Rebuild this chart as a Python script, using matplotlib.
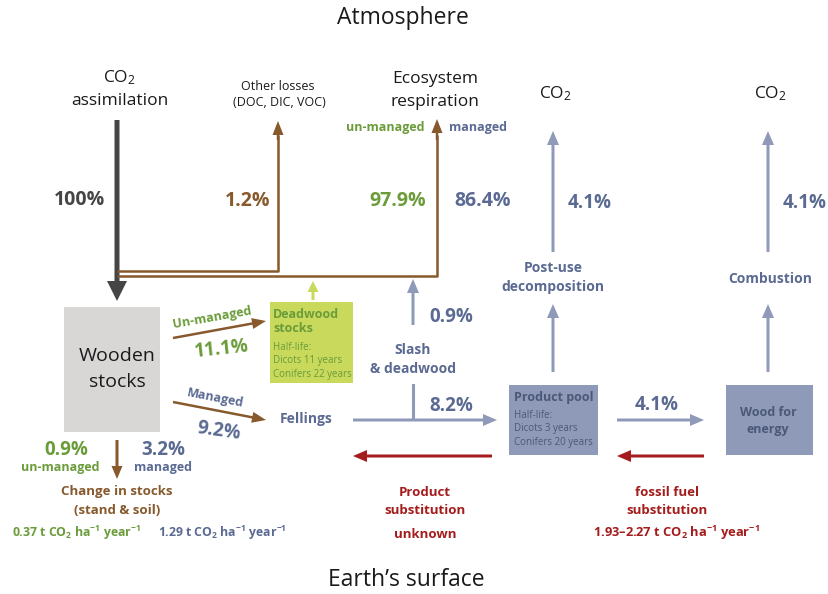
import matplotlib.pyplot as plt
from matplotlib.patches import Rectangle

plt.rcParams['font.family'] = ['Open Sans', 'DejaVu Sans']
plt.rcParams['mathtext.fontset'] = 'custom'
plt.rcParams['mathtext.default'] = 'regular'

# carbon flows, % of CO2 assimilation
assimilation = 100
other_losses = 1.2
respiration = [97.9, 86.4]        # un-managed, managed
to_deadwood = 11.1                # un-managed
to_fellings = 9.2                 # managed
slash = 0.9
to_products = 8.2
stock_change = [0.9, 3.2]         # un-managed, managed
to_energy = 4.1
decomposition = 4.1
combustion = 4.1
# rates in t CO2 / ha / year
stock_rate = [0.37, 1.29]
fossil_sub = [1.93, 2.27]
# half-lives, years (dicots, conifers)
deadwood_half = [11, 22]
product_half = [3, 20]

BLACK = '#1a1a1a'
DARK = '#454545'
BROWN = '#87592c'
GREEN = '#6a9c3a'
SLATE = '#5b6a92'
SLATE_A = '#8e9ab8'
RED = '#a51c1c'
LIME = '#c9d95b'
BOXTXT = '#4c5878'

def pct(v):
    return f'{v:g}%'

def rate(v):
    return r'%s t CO$_2$ ha$^{-1}$ year$^{-1}$' % v

fig = plt.figure(figsize=(8.29, 5.94), dpi=100, facecolor='w')
ax = fig.add_axes([0, 0, 1, 1])
ax.set_xlim(0, 829)
ax.set_ylim(594, 0)
ax.axis('off')

def arrow(x0, y0, x1, y1, c, w=3, hw=12, hl=14):
    ax.arrow(x0, y0, x1 - x0, y1 - y0, width=w, head_width=hw, head_length=hl,
             length_includes_head=True, color=c, lw=0)

def txt(x, y, s, c=BLACK, size=10, bold=False, ha='center', **kw):
    ax.text(x, y, s, color=c, fontsize=size, ha=ha, va='center',
            fontweight='bold' if bold else 'normal', **kw)

txt(403, 18, 'Atmosphere', size=16.5)
txt(406, 580, 'Earth\u2019s surface', size=16.5)

# assimilation
txt(119, 78, r'CO$_2$', size=12.5)
txt(120, 101, 'assimilation', size=12.5)
arrow(117, 120, 117, 301, DARK, w=5, hw=20, hl=20)
txt(80, 200, pct(assimilation), DARK, 14, True)

# other losses and respiration
ax.plot([117, 278, 278], [271, 271, 135], color=BROWN, lw=1.8, solid_capstyle='butt')
arrow(278, 140, 278, 121, BROWN, w=2.5, hw=11, hl=14)
ax.plot([117, 437, 437], [276, 276, 135], color=BROWN, lw=1.8, solid_capstyle='butt')
arrow(437, 140, 437, 119, BROWN, w=2.5, hw=11, hl=14)
txt(278, 87, 'Other losses', size=9)
txt(279, 103, '(DOC, DIC, VOC)', size=9)
txt(248, 201, pct(other_losses), BROWN, 14, True)
txt(435, 79, 'Ecosystem', size=12.5)
txt(435, 102, 'respiration', size=12.5)
txt(385, 127, 'un-managed', GREEN, 9, True)
txt(478, 127, 'managed', SLATE, 9, True)
txt(398, 201, pct(respiration[0]), GREEN, 14, True)
txt(483, 201, pct(respiration[1]), SLATE, 14, True)

# wooden stocks
ax.add_patch(Rectangle((64, 307), 96, 125, color='#d9d6d6', lw=0))
txt(117, 356, 'Wooden', size=14)
txt(117, 382, 'stocks', size=14)

arrow(173, 338, 266, 321, BROWN, w=2.5, hw=11, hl=14)
txt(212, 318, 'Un-managed', GREEN, 9, True, rotation=10)
txt(222, 349, pct(to_deadwood), GREEN, 13.5, True, rotation=6)
arrow(173, 402, 266, 420, BROWN, w=2.5, hw=11, hl=14)
txt(215, 398, 'Managed', SLATE, 9, True, rotation=-11)
txt(219, 431, pct(to_fellings), SLATE, 13.5, True, rotation=-8)

# deadwood
ax.add_patch(Rectangle((270, 302), 83, 81, color=LIME, lw=0))
arrow(313, 300, 313, 281, LIME, w=3, hw=11, hl=11)
txt(273, 314, 'Deadwood', GREEN, 9, True, ha='left')
txt(273, 328, 'stocks', GREEN, 9, True, ha='left')
txt(273, 348, 'Half-life:', GREEN, 7, ha='left')
txt(273, 361, f'Dicots {deadwood_half[0]} years', GREEN, 7, ha='left')
txt(273, 374, f'Conifers {deadwood_half[1]} years', GREEN, 7, ha='left')

# fellings / slash
txt(306, 419, 'Fellings', SLATE, 10, True)
arrow(353, 420, 497, 420, SLATE_A, w=3, hw=12, hl=14)
ax.plot([413, 413], [385, 418], color=SLATE_A, lw=2.2)
arrow(413, 325, 413, 279, SLATE_A, w=3, hw=12, hl=14)
txt(413, 350, 'Slash', SLATE, 10, True)
txt(413, 369, '& deadwood', SLATE, 10, True)
txt(451, 317, pct(slash), SLATE, 13.5, True)
txt(451, 406, pct(to_products), SLATE, 13.5, True)

# change in stocks
arrow(117, 440, 117, 479, BROWN, w=3, hw=11, hl=13)
txt(66, 450, pct(stock_change[0]), GREEN, 13.5, True)
txt(60, 467, 'un-managed', GREEN, 9, True)
txt(163, 450, pct(stock_change[1]), SLATE, 13.5, True)
txt(163, 467, 'managed', SLATE, 9, True)
txt(117, 492, 'Change in stocks', BROWN, 9.5, True)
txt(117, 510, '(stand & soil)', BROWN, 9.5, True)
txt(76, 533, rate(stock_rate[0]), GREEN, 8.8, True)
txt(222, 533, rate(stock_rate[1]), SLATE, 8.8, True)

# product substitution
arrow(492, 456, 353, 456, RED, w=3, hw=12, hl=14)
txt(425, 492, 'Product', RED, 9.5, True)
txt(425, 510, 'substitution', RED, 9.5, True)
txt(425, 534, 'unknown', RED, 9.5, True)

# product pool
ax.add_patch(Rectangle((509, 385), 89, 70, color=SLATE_A, lw=0))
txt(514, 398, 'Product pool', BOXTXT, 9, True, ha='left')
txt(514, 416, 'Half-life:', BOXTXT, 7, ha='left')
txt(514, 429, f'Dicots {product_half[0]} years', BOXTXT, 7, ha='left')
txt(514, 442, f'Conifers {product_half[1]} years', BOXTXT, 7, ha='left')
arrow(617, 420, 704, 420, SLATE_A, w=3, hw=12, hl=14)
txt(657, 405, pct(to_energy), SLATE, 13.5, True)
arrow(704, 456, 617, 456, RED, w=3, hw=12, hl=14)

# wood for energy
ax.add_patch(Rectangle((726, 385), 87, 70, color=SLATE_A, lw=0))
txt(768, 412, 'Wood for', BOXTXT, 9, True)
txt(768, 430, 'energy', BOXTXT, 9, True)
txt(667, 492, 'fossil fuel', RED, 9.5, True)
txt(667, 510, 'substitution', RED, 9.5, True)
txt(676, 533, '%s\u2013%s t CO$_2$ ha$^{-1}$ year$^{-1}$'
    % (fossil_sub[0], fossil_sub[1]), RED, 9.3, True)

# decomposition and combustion
arrow(553, 372, 553, 304, SLATE_A)
txt(553, 268, 'Post-use', SLATE, 10, True)
txt(553, 287, 'decomposition', SLATE, 10, True)
arrow(553, 252, 553, 131, SLATE_A)
txt(590, 203, pct(decomposition), SLATE, 13.5, True)
txt(555, 94, r'CO$_2$', size=12.5)

arrow(768, 372, 768, 304, SLATE_A)
txt(770, 279, 'Combustion', SLATE, 10, True)
arrow(768, 252, 768, 131, SLATE_A)
txt(805, 203, pct(combustion), SLATE, 13.5, True)
txt(770, 94, r'CO$_2$', size=12.5)

fig.savefig('out.png', dpi=100)
